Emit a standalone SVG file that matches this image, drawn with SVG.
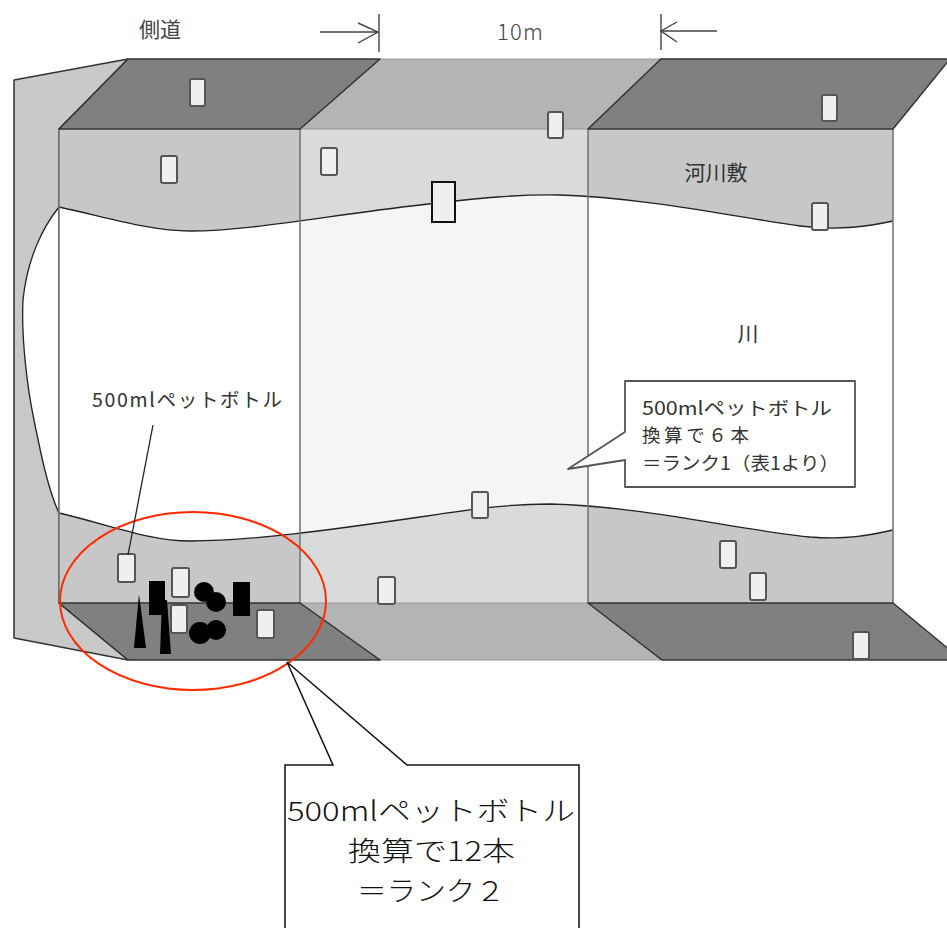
<svg xmlns="http://www.w3.org/2000/svg" width="947" height="928" viewBox="0 0 947 928">
  <style>
    .txt{font-family:"Noto Sans CJK JP","Noto Sans",sans-serif;fill:#333}
    .big{font-family:"Noto Sans CJK JP","Noto Sans",sans-serif;fill:#111;font-size:27px;font-weight:300}
    .bottle{fill:#efefef;stroke:#555;stroke-width:2}
    .dark{fill:#808080;stroke:#333;stroke-width:1.5;stroke-linejoin:round}
    .mid{fill:#b4b4b4;stroke:#999;stroke-width:1.2}
    .wave{fill:none;stroke:#222;stroke-width:1.3}
    .edge{stroke:#777;stroke-width:1.6;fill:none}
    .ink{fill:#000}
  </style>
  <defs>
    <clipPath id="midClip"><rect x="300" y="129" width="288" height="474"/></clipPath>
    <path id="riverShape" d="M59,207 C110,218 150,231 190,231 C250,231 330,215 420,205 C480,198 520,194 560,195 C650,198 740,218 800,226 C840,231 870,226 893,221 L893,530 C870,535 850,540 810,537 C740,530 640,506 550,504 C510,504 480,508 420,517 C330,530 250,541 190,541 C150,541 110,525 59,513 Z"/>
  </defs>

  <rect width="947" height="928" fill="#fff"/>

  <!-- side road strip on the left -->
  <g id="side-road">
    <polygon points="14,80 128,59 59,129 59,603 128,660 14,638" fill="#c8c8c8" stroke="#333" stroke-width="1.5" stroke-linejoin="round"/>
    <path d="M59,207 C42,228 27,260 23,300 C21,340 28,390 33,415 C40,450 48,490 59,513 Z" fill="#fff" stroke="#222" stroke-width="1.3"/>
  </g>

  <!-- front face: banks and river -->
  <g id="front-face">
    <rect x="59" y="129" width="834" height="474" fill="#c7c7c7"/>
    <use href="#riverShape" fill="#fff"/>
    <g clip-path="url(#midClip)">
      <rect x="300" y="129" width="288" height="474" fill="#d9dada"/>
      <use href="#riverShape" fill="#f4f5f5"/>
    </g>
    <path class="wave" d="M59,207 C110,218 150,231 190,231 C250,231 330,215 420,205 C480,198 520,194 560,195 C650,198 740,218 800,226 C840,231 870,226 893,221"/>
    <path class="wave" d="M59,513 C110,525 150,541 190,541 C250,541 330,530 420,517 C480,508 510,504 550,504 C640,506 740,530 810,537 C850,540 870,535 893,530"/>
    <line class="edge" x1="59" y1="129" x2="59" y2="603"/>
    <line class="edge" x1="300" y1="129" x2="300" y2="603" stroke="#999"/>
    <line class="edge" x1="588" y1="129" x2="588" y2="603" stroke="#999"/>
    <line class="edge" x1="893" y1="129" x2="893" y2="603"/>
  </g>

  <!-- top faces -->
  <g id="top-faces">
    <polygon class="mid" points="380,59 661,59 588,129 300,129"/>
    <polygon class="dark" points="128,59 380,59 300,129 59,129"/>
    <polygon class="dark" points="661,59 950,59 893,129 588,129"/>
  </g>

  <!-- bottom faces -->
  <g id="bottom-faces">
    <polygon class="mid" points="300,603 588,603 662,660 380,660"/>
    <polygon class="dark" points="59,603 300,603 380,660 128,660"/>
    <polygon class="dark" points="588,603 893,603 962,660 662,660"/>
  </g>

  <!-- scattered bottles -->
  <g id="bottles">
    <rect class="bottle" x="190" y="79" width="15" height="27" rx="2"/>
    <rect class="bottle" x="161" y="156" width="16" height="27" rx="2"/>
    <rect class="bottle" x="321" y="148" width="16" height="27" rx="2"/>
    <rect class="bottle" x="548" y="112" width="15" height="26" rx="2"/>
    <rect class="bottle" x="822" y="95" width="15" height="26" rx="2"/>
    <rect class="bottle" x="812" y="203" width="16" height="27" rx="2"/>
    <rect x="432" y="182" width="23" height="40" fill="#efefef" stroke="#111" stroke-width="2"/>
    <rect class="bottle" x="472" y="492" width="16" height="26" rx="2"/>
    <rect class="bottle" x="720" y="541" width="16" height="27" rx="2"/>
    <rect class="bottle" x="750" y="573" width="16" height="27" rx="2"/>
    <rect class="bottle" x="853" y="632" width="16" height="27" rx="2"/>
    <rect class="bottle" x="118" y="554" width="17" height="28" rx="2"/>
    <rect class="bottle" x="172" y="568" width="17" height="29" rx="2"/>
    <rect class="bottle" x="171" y="605" width="16" height="28" rx="2"/>
    <rect class="bottle" x="257" y="610" width="17" height="28" rx="2"/>
    <rect class="bottle" x="378" y="577" width="17" height="27" rx="2"/>
  </g>

  <!-- heaped litter -->
  <g id="litter">
    <rect class="ink" x="149" y="581" width="16" height="34"/>
    <rect class="ink" x="233" y="582" width="17" height="34"/>
    <polygon class="ink" points="134,648 146,648 139,594"/>
    <polygon class="ink" points="162,600 167,600 171,654 160,654"/>
    <circle class="ink" cx="204" cy="592" r="10"/>
    <circle class="ink" cx="216" cy="602" r="10"/>
    <circle class="ink" cx="200" cy="633" r="11"/>
    <circle class="ink" cx="216" cy="630" r="10"/>
  </g>

  <!-- highlight ring -->
  <g id="highlight">
    <ellipse cx="193" cy="601" rx="133" ry="89" fill="none" stroke="#ff2a00" stroke-width="2"/>
  </g>

  <!-- leader lines -->
  <g id="connectors">
    <line x1="153" y1="425" x2="128" y2="555" stroke="#222" stroke-width="1.3"/>
  </g>

  <!-- width dimension -->
  <g id="dimension" stroke="#444" stroke-width="1.4" fill="none">
    <line x1="320" y1="32" x2="378" y2="32"/>
    <polyline points="358,23 378,32 358,43"/>
    <line x1="379" y1="14" x2="379" y2="52"/>
    <line x1="661" y1="14" x2="661" y2="50"/>
    <polyline points="677,22 661,31 677,42"/>
    <line x1="661" y1="31" x2="717" y2="31"/>
  </g>

  <!-- plain labels -->
  <g id="labels" class="txt">
    <text x="160" y="37" font-size="21" text-anchor="middle" fill="#444">側道</text>
    <text x="497" y="40" font-size="22" fill="#444" font-weight="300" textLength="46" lengthAdjust="spacing">10m</text>
    <text x="716" y="180" font-size="21" text-anchor="middle">河川敷</text>
    <text x="748" y="341" font-size="21" text-anchor="middle">川</text>
    <text x="92" y="407" font-size="19.5" textLength="190" lengthAdjust="spacing">500mlペットボトル</text>
  </g>

  <!-- callout for the six-bottle rank -->
  <g id="callout-rank1">
    <path d="M625,381 H855 V487 H625 V460 L568,469 L625,432 Z" fill="#fff" stroke="#555" stroke-width="1.8" stroke-linejoin="round"/>
    <g class="txt" font-size="18.5">
      <text x="642" y="415" textLength="190" lengthAdjust="spacingAndGlyphs">500mlペットボトル</text>
      <text x="642" y="442" textLength="107" lengthAdjust="spacing">換算で６本</text>
      <text x="642" y="470" textLength="197" lengthAdjust="spacingAndGlyphs">＝ランク1（表1より）</text>
    </g>
  </g>

  <!-- callout for the twelve-bottle rank -->
  <g id="callout-rank2">
    <path d="M285,935 V765 H333 L287,662 L407,765 H579 V935" fill="#fff" stroke="#111" stroke-width="1.5"/>
    <text class="big" x="287" y="821" textLength="288" lengthAdjust="spacingAndGlyphs">500mlペットボトル</text>
    <text class="big" x="348" y="861" textLength="167" lengthAdjust="spacingAndGlyphs">換算で12本</text>
    <text class="big" x="357" y="901" textLength="148" lengthAdjust="spacingAndGlyphs">＝ランク２</text>
  </g>
</svg>
